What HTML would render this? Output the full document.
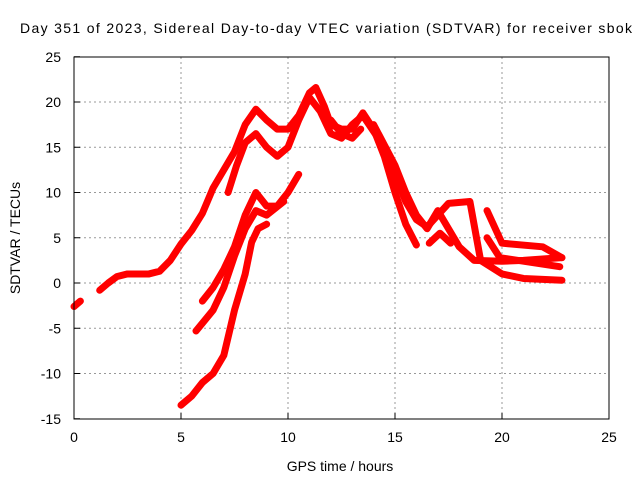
<!DOCTYPE html>
<html><head><meta charset="utf-8"><style>
body{margin:0;background:#fff;}
svg{font-family:"Liberation Sans",sans-serif;font-size:14px;}
</style></head><body>
<svg id="chart" width="640" height="480">
<rect width="640" height="480" fill="#fff"/>
<text x="20" y="33" textLength="612" lengthAdjust="spacing" style="font-size:14px">Day 351 of 2023, Sidereal Day-to-day VTEC variation (SDTVAR) for receiver sbok</text>
<g id="grid"></g><g id="series"></g>
<rect x="74" y="57" width="535" height="362" fill="none" stroke="#000"/>
<g id="ticks"></g>
<text x="340" y="471" text-anchor="middle">GPS time / hours</text>
<text transform="translate(20,238) rotate(-90)" text-anchor="middle">SDTVAR / TECUs</text>
</svg>
<script>
const xTicks=[0,5,10,15,20,25];
const yTicks=[25,20,15,10,5,0,-5,-10,-15];
const s1=[[0,-2.6],[0.3,-2]];
const s2=[[1.2,-0.8],[1.6,0],[2,0.7],[2.5,1],[3.5,1],[4,1.3],[4.5,2.5],[5,4.3],[5.5,5.8],[6,7.7],[6.5,10.5],[7,12.5],[7.5,14.5],[8,17.5],[8.5,19.2],[9,18],[9.5,17],[10,17],[10.5,18.5],[11,21],[11.3,21.6],[11.7,19.5],[12,17.5],[12.5,17],[13,17],[13.5,18.8],[14,17],[14.5,14],[15,10],[15.5,6.5],[16,4.2]];
const s3=[[7.2,10],[7.6,13],[8,15.5],[8.5,16.5],[9,15],[9.5,14],[10,15],[10.5,18],[11,20.5],[11.5,19],[12,16.5],[12.5,16],[13,17.5],[13.5,18.5],[14.5,15],[15,12],[15.5,9],[16,7],[16.5,6.2],[17,7.5],[17.5,8.8],[18.5,9],[19,2.5],[20,1],[21,0.5],[22.8,0.3]];
const s4=[[6,-2],[6.5,-0.5],[7,1.5],[7.5,4],[8,7.5],[8.5,10],[9,8.5],[9.5,8.5],[10,10],[10.5,12]];
const s5=[[5.7,-5.3],[6.5,-3],[7,-0.5],[7.5,3],[8,6],[8.5,8],[9,7.5],[9.8,9]];
const s6=[[5,-13.5],[5.5,-12.5],[6,-11],[6.5,-10],[7,-8],[7.5,-3],[8,1],[8.3,4.5],[8.6,6],[9,6.5]];
const s7=[[14,17.5],[15,13],[15.5,10],[16,7.5],[16.5,6],[17,8],[18,4],[18.7,2.5],[20,2.4],[21,2.5],[22.8,2.8]];
const s8=[[19.3,8],[20,4.4],[21.9,4],[22.8,2.8]];
const s9=[[19.3,5],[19.9,2.8],[22.7,1.8]];
const s10=[[16.6,4.4],[17.1,5.5],[17.6,4.4]];
const s11=[[12,18],[12.5,16.5],[13,16],[13.4,17]];
const allSeries=[s1,s2,s3,s4,s5,s6,s7,s8,s9,s10,s11];
const X=t=>74+t*21.4, Y=v=>283-v*9.05;
const NS="http://www.w3.org/2000/svg";
const grid=document.getElementById('grid'),ticks=document.getElementById('ticks'),ser=document.getElementById('series');
function mk(tag,attrs,parent){const e=document.createElementNS(NS,tag);for(const k in attrs)e.setAttribute(k,attrs[k]);parent.appendChild(e);return e;}
xTicks.forEach(t=>{
 if(t>0&&t<25){const g=mk('line',{x1:X(t),x2:X(t),y1:57,y2:419,stroke:'#999','stroke-dasharray':'2,3'},grid);
 
 }
 const l=mk('line',{x1:X(t),x2:X(t),y1:419,y2:413,stroke:'#000'},ticks);
 
 
 const tx=mk('text',{x:X(t),y:442,'text-anchor':'middle'},ticks);tx.textContent=t;
 
 
});
yTicks.forEach(v=>{
 if(v<25&&v>-15){const g=mk('line',{x1:74,x2:609,y1:Y(v),y2:Y(v),stroke:'#999','stroke-dasharray':'2,3'},grid);
 
 }
 const l=mk('line',{x1:74,x2:80,y1:Y(v),y2:Y(v),stroke:'#000'},ticks);
 
 
 const tx=mk('text',{x:61,y:Y(v)+5,'text-anchor':'end'},ticks);tx.textContent=v;
 
 
});
allSeries.forEach((s,i)=>{
 const p=mk('polyline',{points:s.map(d=>X(d[0])+','+Y(d[1])).join(' '),fill:'none',stroke:'#f00','stroke-width':7,'stroke-linejoin':'round','stroke-linecap':'round'},ser);
 
 
});
</script>
</body></html>
